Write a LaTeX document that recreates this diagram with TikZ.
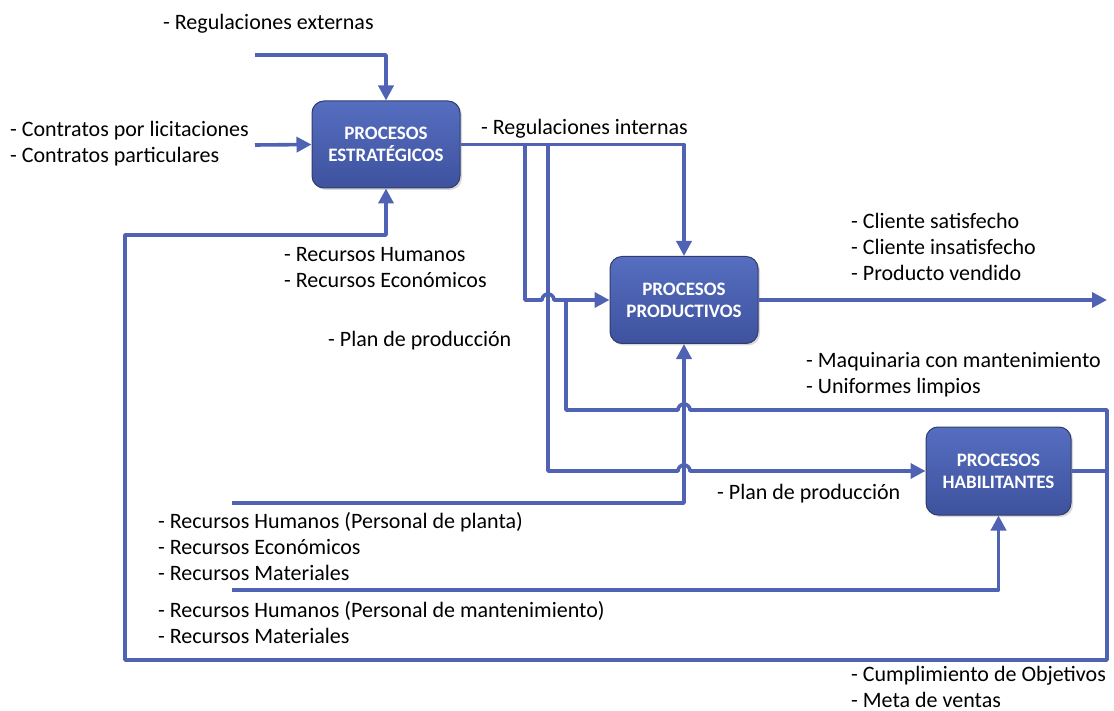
\documentclass[tikz,border=0pt]{standalone}
\usepackage{fontspec}
\setmainfont{Carlito}
\usetikzlibrary{arrows.meta,shadows}
\definecolor{ln}{RGB}{79,98,180}
\definecolor{boxtop}{RGB}{86,110,192}
\definecolor{boxbot}{RGB}{62,82,158}
\definecolor{boxedge}{RGB}{48,60,108}
\begin{document}
\begin{tikzpicture}[x=1pt,y=-1pt,
  proc/.style={draw=boxedge, line width=1pt, rounded corners=12pt,
    top color=boxtop, bottom color=boxbot, text=white,
    font=\bfseries\fontsize{19}{22}\selectfont, align=center,
    inner sep=0pt, minimum width=148pt, minimum height=87pt,
    drop shadow={opacity=0.3, shadow xshift=2pt, shadow yshift=-2pt}},
  conn/.style={draw=ln, line width=3.6pt, line join=round},
  arr/.style={conn, -{Triangle[length=15pt,width=15pt]}},
  lbl/.style={font=\fontsize{22}{26}\selectfont, align=left,
    anchor=north west, inner sep=0pt}
]
\useasboundingbox (0,0) rectangle (1114,711);

% process boxes
\node[proc] (E) at (386,144.5) {PROCESOS\\ESTRATÉGICOS};
\node[proc] (P) at (684,300) {PROCESOS\\PRODUCTIVOS};
\node[proc, minimum width=145pt, minimum height=88pt] (H) at (998.5,471) {PROCESOS\\HABILITANTES};

% free ends and junctions
\coordinate (reIn) at (255,55);
\coordinate (coIn) at (255,145);
\coordinate (b1) at (525,145);
\coordinate (b2) at (548,145);
\coordinate (out) at (1107,300);
\coordinate (r1) at (1107,471);
\coordinate (rpIn) at (232,503);
\coordinate (rhIn) at (232,590);

% inputs to estrategicos
\draw[arr] (reIn) -| (E.north);
\draw[arr] (coIn) -- (E.west);

% regulaciones internas
\draw[arr] (E.east) -| (P.north);
\draw[arr] (b1) -- (b1 |- P.west) -- ++(17,0)
  arc[start angle=180, end angle=0, radius=6pt] -- (P.west);
\draw[arr] (b2) -- (b2 |- H.west) -- (678,471)
  arc[start angle=180, end angle=0, radius=6pt] -- (H.west);

% outputs
\draw[arr] (P.east) -- (out);
\draw[conn] (H.east) -- (r1);

% feedback habilitantes -> productivos
\draw[conn] (r1) -- (1107,410) -- (690,410)
  arc[start angle=0, end angle=180, radius=6pt] -- (566,410) -- (566,300);

% feedback -> estrategicos
\draw[arr] (r1) -- (1107,660) -- (125,660) -- (125,235) -| (E.south);

% resource inputs
\draw[arr] (rpIn) -| (P.south);
\draw[arr] (rhIn) -| (H.south);

% labels
\node[lbl] at (163,11) {\strut- Regulaciones externas};
\node[lbl] at (10,118) {\strut- Contratos por licitaciones\\- Contratos particulares};
\node[lbl] at (481,116) {\strut- Regulaciones internas};
\node[lbl] at (284,243) {\strut- Recursos Humanos\\- Recursos Económicos};
\node[lbl] at (328,328) {\strut- Plan de producción};
\node[lbl] at (851,210) {\strut- Cliente satisfecho\\- Cliente insatisfecho\\- Producto vendido};
\node[lbl] at (806,349) {\strut- Maquinaria con mantenimiento\\- Uniformes limpios};
\node[lbl] at (717,481) {\strut- Plan de producción};
\node[lbl] at (158,510) {\strut- Recursos Humanos (Personal de planta)\\- Recursos Económicos\\- Recursos Materiales};
\node[lbl] at (158,599) {\strut- Recursos Humanos (Personal de mantenimiento)\\- Recursos Materiales};
\node[lbl] at (851,663) {\strut- Cumplimiento de Objetivos\\- Meta de ventas};
\end{tikzpicture}
\end{document}
